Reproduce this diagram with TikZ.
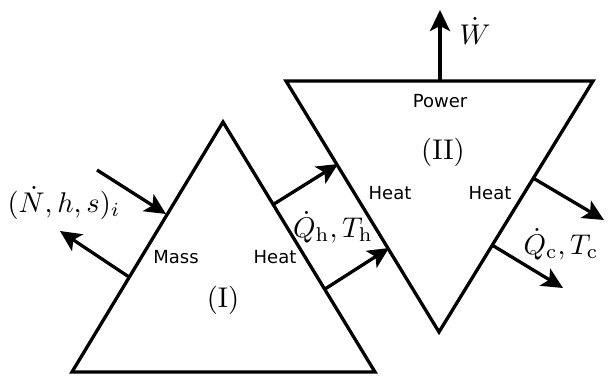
\documentclass[tikz,border=0pt]{standalone}
\usepackage{fontspec}
\newfontfamily\labelfont{DejaVu Sans}
\usetikzlibrary{arrows.meta}
\begin{document}
\begin{tikzpicture}[x=1pt,y=-1pt,
  wall/.style={line width=3.3pt,line join=miter},
  flow/.style={line width=3.3pt,-{Stealth[length=21pt,width=20pt,inset=5pt]}},
  lab/.style={font=\labelfont\fontsize{18}{21}\selectfont,inner sep=0pt},
  mth/.style={font=\fontsize{10}{12}\selectfont,inner sep=0pt,scale=2.85}]
\useasboundingbox (0,0) rectangle (613,375);
% triangle I
\coordinate (Ia) at (223,122);
\coordinate (Ib) at (72,372);
\coordinate (Ic) at (375,372);
\draw[wall] (Ia) -- (Ib) -- (Ic) -- cycle;
% triangle II
\coordinate (IIa) at (286,81);
\coordinate (IIb) at (593,81);
\coordinate (IIc) at (439,332);
\draw[wall] (IIa) -- (IIb) -- (IIc) -- cycle;
% mass flows
\coordinate (min0) at (97,170);
\coordinate (min1) at (166,214);
\coordinate (mout0) at (129,277);
\coordinate (mout1) at (60,231);
\draw[flow] (min0) -- (min1);
\draw[flow] (mout0) -- (mout1);
% hot heat
\coordinate (h1s) at (274,204);
\coordinate (h1e) at (338,164);
\coordinate (h2s) at (325,289);
\coordinate (h2e) at (389,248);
\draw[flow] (h1s) -- (h1e);
\draw[flow] (h2s) -- (h2e);
% cold heat
\coordinate (c1s) at (533,178);
\coordinate (c1e) at (604,220);
\coordinate (c2s) at (492,245);
\coordinate (c2e) at (563,288);
\draw[flow] (c1s) -- (c1e);
\draw[flow] (c2s) -- (c2e);
% work
\coordinate (w0) at (440,81);
\coordinate (w1) at (440,10);
\draw[flow] (w0) -- (w1);
% labels
\node[mth] (lw) at (475,31) {$\dot W$};
\node[mth] (lm) at (64,203) {$(\dot N,h,s)_i$};
\node[mth] (lh) at (333,227) {$\dot Q_{\mathrm{h}},T_{\mathrm{h}}$};
\node[mth] (lc) at (561,244) {$\dot Q_{\mathrm{c}},T_{\mathrm{c}}$};
\node[mth] (lI) at (223,300) {(I)};
\node[mth] (lII) at (443,152) {(II)};
\node[lab] (mass) at (176,257) {Mass};
\node[lab] (heatI) at (275,257) {Heat};
\node[lab] (power) at (440,101) {Power};
\node[lab] (heatIIl) at (390,193) {Heat};
\node[lab] (heatIIr) at (490,193) {Heat};
\end{tikzpicture}
\end{document}
